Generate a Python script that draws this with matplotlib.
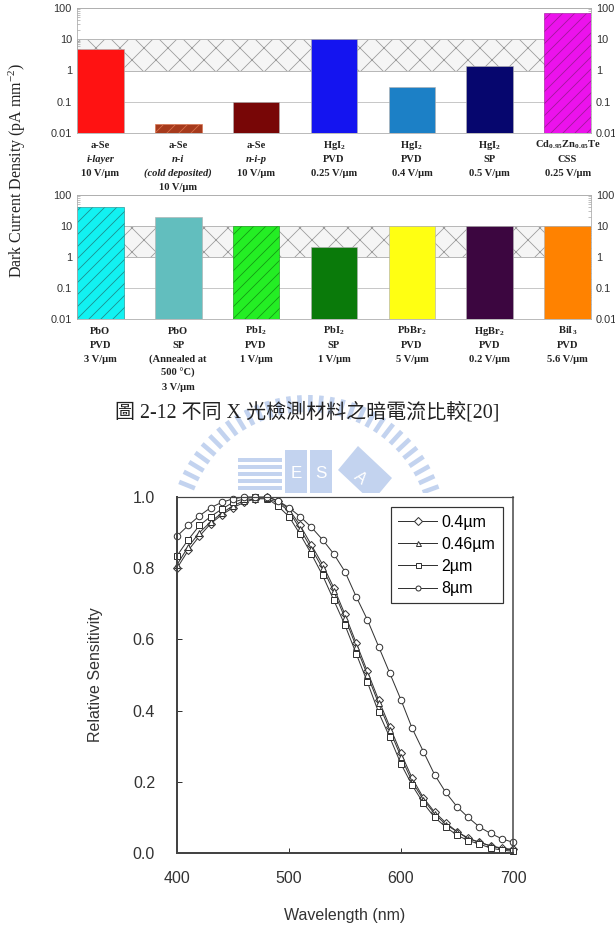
import numpy as np
import matplotlib.pyplot as plt
from matplotlib.patches import Rectangle, Polygon
from matplotlib.ticker import LogLocator, NullFormatter

W, H = 615, 939
DPI = 72   # 1 pt = 1 px

plt.rcParams['mathtext.default'] = 'regular'
plt.rcParams['hatch.linewidth'] = 0.8

# 上排：暗电流
labels_top = ['a-Se\ni-layer\n10 V/µm', 'a-Se\nn-i\n(cold deposited)\n10 V/µm', 'a-Se\nn-i-p\n10 V/µm',
              'HgI$_2$\nPVD\n0.25 V/µm', 'HgI$_2$\nPVD\n0.4 V/µm', 'HgI$_2$\nSP\n0.5 V/µm',
              'Cd$_{0.95}$Zn$_{0.05}$Te\nCSS\n0.25 V/µm']
italic_top = [[1], [1, 2], [1], [], [], [], []]
dark_top = [5.0, 0.02, 0.1, 10, 0.3, 1.4, 70]
colors_top = ['#ff1212', '#a63a1c', '#780606', '#1414f0', '#1c80c6', '#06066e', '#ec12ec']
hatch_top = [None, '//', None, None, None, None, '//']
hcol_top = ['#b0b0b0', '#d8704a', '#b0b0b0', '#b0b0b0', '#b0b0b0', '#b0b0b0', '#a0189c']

# 下排
labels_bot = ['PbO\nPVD\n3 V/µm', 'PbO\nSP\n(Annealed at\n500 °C)\n3 V/µm', 'PbI$_2$\nPVD\n1 V/µm',
              'PbI$_2$\nSP\n1 V/µm', 'PbBr$_2$\nPVD\n5 V/µm', 'HgBr$_2$\nPVD\n0.2 V/µm',
              'BiI$_3$\nPVD\n5.6 V/µm']
italic_bot = [[], [], [], [], [], [], []]
dark_bot = [40, 19, 10, 2.1, 10, 10, 10]
colors_bot = ['#12f2f2', '#62bebe', '#24ee24', '#0a7a0a', '#ffff12', '#3c0640', '#ff8200']
hatch_bot = ['//', None, '//', None, None, None, None]
hcol_bot = ['#1c8c8c', '#b0b0b0', '#129a12', '#b0b0b0', '#b0b0b0', '#b0b0b0', '#b0b0b0']

yticks = [0.01, 0.1, 1, 10, 100]
yticklabels = ['0.01', '0.1', '1', '10', '100']

# 下图：相对灵敏度
wavelength = [400, 410, 420, 430, 440, 450, 460, 470, 480, 490, 500, 510, 520, 530, 540, 550,
              560, 570, 580, 590, 600, 610, 620, 630, 640, 650, 660, 670, 680, 690, 700]
sens_04 = [0.80, 0.85, 0.89, 0.925, 0.95, 0.97, 0.985, 0.995, 1.0, 0.99, 0.965, 0.92, 0.865, 0.81,
           0.745, 0.67, 0.59, 0.51, 0.43, 0.355, 0.28, 0.21, 0.155, 0.115, 0.085, 0.06, 0.042,
           0.03, 0.02, 0.014, 0.01]
sens_046 = [0.81, 0.86, 0.90, 0.93, 0.955, 0.975, 0.99, 0.995, 0.995, 0.985, 0.96, 0.91, 0.855,
            0.80, 0.735, 0.66, 0.58, 0.50, 0.42, 0.345, 0.27, 0.20, 0.15, 0.11, 0.08, 0.06, 0.04,
            0.03, 0.02, 0.012, 0.008]
sens_2 = [0.835, 0.88, 0.92, 0.945, 0.966, 0.985, 0.995, 1.0, 0.997, 0.975, 0.945, 0.895, 0.84,
          0.78, 0.71, 0.64, 0.56, 0.48, 0.395, 0.325, 0.25, 0.19, 0.14, 0.10, 0.073, 0.05, 0.035,
          0.025, 0.014, 0.008, 0.005]
sens_8 = [0.89, 0.92, 0.947, 0.97, 0.985, 0.995, 1.0, 1.0, 1.0, 0.99, 0.97, 0.945, 0.915, 0.88,
          0.84, 0.79, 0.72, 0.655, 0.58, 0.505, 0.43, 0.35, 0.285, 0.22, 0.17, 0.13, 0.10, 0.073,
          0.055, 0.04, 0.03]
series = [(sens_04, 'D', '0.4µm'), (sens_046, '^', '0.46µm'), (sens_2, 's', '2µm'), (sens_8, 'o', '8µm')]

caption = '圖 2-12 不同 X 光檢測材料之暗電流比較[20]'


def px_axes(x0, y0, x1, y1, **kw):
    # 像素坐标 -> figure 坐标
    return fig.add_axes([x0 / W, 1 - y1 / H, (x1 - x0) / W, (y1 - y0) / H], **kw)


def bar_panel(ax, labels, italic, vals, colors, hatches, hcols):
    x = np.arange(len(vals))
    ax.set_yscale('log')
    ax.set_ylim(0.01, 100)
    ax.set_xlim(-0.3, len(vals) - 0.7)
    ax.axhspan(1, 10, facecolor='#f5f5f5', edgecolor='#9a9a9a', hatch='x', lw=0.8, zorder=0.5)
    ax.set_yticks(yticks)
    ax.set_yticklabels(yticklabels, family='Liberation Sans', fontsize=11, color='#333')
    ax.yaxis.set_minor_locator(LogLocator(base=10, subs=np.arange(2, 10), numticks=20))
    ax.yaxis.set_minor_formatter(NullFormatter())
    ax.tick_params(axis='y', which='major', length=0, pad=5, labelright=True)
    ax.tick_params(axis='y', which='minor', direction='in', length=3, color='#999', right=True)
    ax.set_xticks([])
    ax.yaxis.grid(True, which='major', color='#bbbbbb', lw=0.8)
    ax.set_axisbelow(True)
    for s in ax.spines.values():
        s.set_color('#aaaaaa')
        s.set_linewidth(0.8)
    for i in range(len(vals)):
        ax.bar(x[i], vals[i] - 0.01, bottom=0.01, width=0.6, color=colors[i], hatch=hatches[i],
               edgecolor=hcols[i], lw=0.6, zorder=2)
        for k, line in enumerate(labels[i].split('\n')):
            ax.annotate(line, xy=(x[i], 0), xycoords=('data', 'axes fraction'),
                        xytext=(0, -14.5 - 14 * k), textcoords='offset pixels',
                        ha='center', va='baseline', fontsize=10.5, fontweight='bold',
                        family='Liberation Serif', color='#222',
                        style='italic' if k in italic[i] else 'normal')


fig = plt.figure(figsize=(W / DPI, H / DPI), dpi=DPI)

# 水印 (交大 logo 的近似)
wax = px_axes(140, 380, 480, 493)
wax.set_xlim(140, 480)
wax.set_ylim(493, 380)
wax.axis('off')
wc = '#c3d3ef'
cx, cy = 308, 534
for th in np.radians(np.arange(20, 161, 4.6)):
    u = np.array([np.cos(th), -np.sin(th)])
    v = np.array([np.sin(th), np.cos(th)])
    c = np.array([cx, cy])
    pts = [c + 122 * u - 2.3 * v, c + 139 * u - 2.3 * v, c + 139 * u + 2.3 * v, c + 122 * u + 2.3 * v]
    wax.add_patch(Polygon(pts, closed=True, color=wc, lw=0))
for k in range(6):
    wax.add_patch(Rectangle((238, 458 + 7 * k), 44, 4, color=wc, lw=0))
wax.add_patch(Rectangle((285, 450), 22, 45, color=wc, lw=0))
wax.add_patch(Rectangle((310, 450), 22, 45, color=wc, lw=0))
wax.text(296, 474, 'E', color='white', fontsize=17, ha='center', va='center', family='Liberation Sans')
wax.text(321, 474, 'S', color='white', fontsize=17, ha='center', va='center', family='Liberation Sans')
wax.add_patch(Polygon([(338, 470), (358, 446), (392, 478), (372, 502)], closed=True, color=wc, lw=0))
wax.text(360, 478, 'A', color='white', fontsize=16, ha='center', va='center', rotation=-40,
         family='Liberation Sans')

ax1 = px_axes(77, 8, 591, 133)
bar_panel(ax1, labels_top, italic_top, dark_top, colors_top, hatch_top, hcol_top)
ax2 = px_axes(77, 195, 591, 319)
bar_panel(ax2, labels_bot, italic_bot, dark_bot, colors_bot, hatch_bot, hcol_bot)

fig.text(17 / W, 1 - 170 / H, 'Dark Current Density (pA mm$^{-2}$)', rotation=90, ha='center',
         va='center', fontsize=16, family='Liberation Serif', color='#222')

fig.text(307 / W, 1 - 412 / H, caption, ha='center', va='center', fontsize=20,
         family=['Liberation Serif', 'Noto Sans CJK TC'], color='#222')

ax3 = px_axes(177, 497, 513, 853, zorder=3)
ax3.set_facecolor('white')
for vals, mk, lab in series:
    ax3.plot(wavelength, vals, color='#333', lw=1, marker=mk, ms=6.5 if mk != 'D' else 5.5,
             mfc='white', mec='#333', mew=1, label=lab, clip_on=False)
ax3.set_xlim(400, 700)
ax3.set_ylim(0, 1.0)
ax3.set_xticks([400, 500, 600, 700])
ax3.set_yticks([0.0, 0.2, 0.4, 0.6, 0.8, 1.0])
ax3.set_yticklabels(['0.0', '0.2', '0.4', '0.6', '0.8', '1.0'])
ax3.tick_params(direction='in', length=5, color='#333', labelsize=16, labelcolor='#333', width=1)
ax3.tick_params(axis='x', pad=18)
ax3.tick_params(axis='y', pad=22)
for t in ax3.get_xticklabels() + ax3.get_yticklabels():
    t.set_family('Liberation Sans')
for side, lw in [('left', 2), ('bottom', 2), ('top', 1.2), ('right', 1.5)]:
    ax3.spines[side].set_linewidth(lw)
    ax3.spines[side].set_color('#444')
ax3.set_xlabel('Wavelength (nm)', fontsize=16, family='Liberation Sans', color='#333')
ax3.set_ylabel('Relative Sensitivity', fontsize=16, family='Liberation Sans', color='#333')
ax3.xaxis.set_label_coords(0.5, -0.154)
ax3.yaxis.set_label_coords(-0.22, 0.5)
leg = ax3.legend(loc='upper right', fancybox=False, edgecolor='#333', framealpha=1,
                 prop={'family': 'Liberation Sans', 'size': 16}, handlelength=2.4,
                 handletextpad=0.3, labelspacing=0.45, borderpad=0.45, borderaxespad=0.65)
leg.get_frame().set_linewidth(1.2)
for h in leg.legend_handles:
    h.set_markersize(5)

fig.savefig('out.png', dpi=DPI)
